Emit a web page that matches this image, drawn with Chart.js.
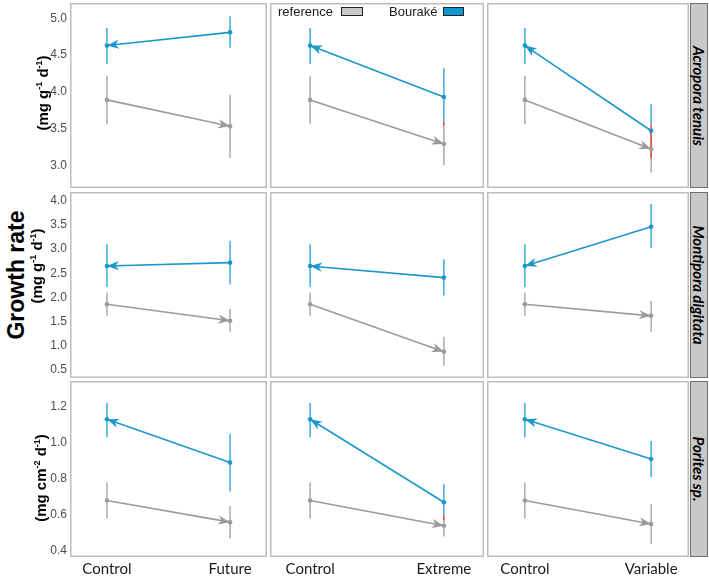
<!DOCTYPE html>
<html>
<head>
<meta charset="utf-8">
<script src="https://cdn.jsdelivr.net/npm/chart.js@4.4.1/dist/chart.umd.min.js"></script>
<style>
  body { margin: 0; background: #fff; }
  #wrap { position: relative; width: 709px; height: 580px; overflow: hidden; font-family: "Liberation Sans", Arial, sans-serif; }
  canvas { position: absolute; }
  .rot { position: absolute; white-space: nowrap; transform: translate(-50%, -50%) rotate(-90deg); font-weight: bold; color: #000; }
  .rot sup { font-size: 0.6em; vertical-align: 0.6em; line-height: 0; }
  .strip { position: absolute; background: #c8c8c8; border: 1px solid #6e6e6e; box-sizing: border-box; }
  .strip span { position: absolute; left: 50%; top: 50%; transform: translate(-50%, -50%) rotate(90deg); white-space: nowrap; font-family: Lato, sans-serif; font-style: italic; font-weight: bold; font-size: 15px; color: #000; }
  .leg { position: absolute; font-size: 13px; color: #1a1a1a; }
  .box { position: absolute; border: 1px solid #222; box-sizing: border-box; }
</style>
</head>
<body>
<div id="wrap"></div>
<script>
// species = rows, treatments = columns
const species = ['Acropora tenuis', 'Montipora digitata', 'Porites sp.'];
const treatments = ['Future', 'Extreme', 'Variable'];
const units = ['(mg g<sup>-1</sup> d<sup>-1</sup>)', '(mg g<sup>-1</sup> d<sup>-1</sup>)', '(mg cm<sup>-2</sup> d<sup>-1</sup>)'];

// control values, one per species
const refControl = [3.89, 1.86, 0.68];
const refControlLow = [3.56, 1.62, 0.58];
const refControlHigh = [4.22, 2.10, 0.78];
const bouControl = [4.63, 2.65, 1.13];
const bouControlLow = [4.38, 2.21, 1.03];
const bouControlHigh = [4.87, 3.10, 1.22];

// treatment values: [species][Future, Extreme, Variable]
const refTreat = [[3.53, 3.29, 3.22], [1.52, 0.88, 1.62], [0.56, 0.54, 0.55]];
const refTreatLow = [[3.10, 3.00, 2.90], [1.29, 0.59, 1.29], [0.47, 0.48, 0.44]];
const refTreatHigh = [[3.96, 3.56, 3.50], [1.76, 1.19, 1.93], [0.65, 0.59, 0.66]];
const bouTreat = [[4.81, 3.93, 3.47], [2.72, 2.41, 3.46], [0.89, 0.67, 0.91]];
const bouTreatLow = [[4.60, 3.60, 3.55], [2.27, 2.04, 3.02], [0.73, 0.60, 0.81]];
const bouTreatHigh = [[5.03, 4.32, 3.83], [3.17, 2.79, 3.93], [1.05, 0.77, 1.01]];
// small red overlap segments on the treatment error bars
const overlapLow = [[null, 3.54, 3.10], [null, null, null], [null, 0.57, null]];
const overlapHigh = [[null, 3.60, 3.55], [null, null, null], [null, 0.60, null]];

// y axes per species
const yTicks = [[3.0, 3.5, 4.0, 4.5, 5.0], [0.5, 1.0, 1.5, 2.0, 2.5, 3.0, 3.5, 4.0], [0.4, 0.6, 0.8, 1.0, 1.2]];
const yMin = [2.69, 0.335, 0.367];
const yMax = [5.21, 4.18, 1.342];

const BLUE = '#1b98c9', BLUE_ERR = '#3eaad8', GREY = '#9b9b9b', GREY_ERR = '#ababab', RED = '#e8453c';

// panel boxes in page pixels
const colX = [[70, 267], [270, 484], [487, 689]];
const rowY = [[3, 188], [192, 378], [381, 557]];

const wrap = document.getElementById('wrap');

function arrowHead(ctx, x0, y0, x1, y1, color) {
  const a = Math.atan2(y1 - y0, x1 - x0);
  const dx = Math.cos(a), dy = Math.sin(a);
  const L = 12, W = 4.6, N = 8.5;
  ctx.fillStyle = color;
  ctx.beginPath();
  ctx.moveTo(x1, y1);
  ctx.lineTo(x1 - L * dx - W * dy, y1 - L * dy + W * dx);
  ctx.lineTo(x1 - N * dx, y1 - N * dy);
  ctx.lineTo(x1 - L * dx + W * dy, y1 - L * dy - W * dx);
  ctx.closePath();
  ctx.fill();
}

const panelPlugin = {
  id: 'panel',
  beforeDatasetsDraw(chart, args, opts) {
    const { ctx, scales: { x, y } } = chart;
    ctx.save();
    ctx.lineWidth = 1.5;
    opts.bars.forEach(b => {
      if (b.lo == null) return;
      const px = x.getPixelForValue(b.x);
      ctx.strokeStyle = b.color;
      ctx.beginPath();
      ctx.moveTo(px, y.getPixelForValue(b.lo));
      ctx.lineTo(px, y.getPixelForValue(b.hi));
      ctx.stroke();
    });
    ctx.restore();
  },
  afterDatasetsDraw(chart, args, opts) {
    const { ctx, chartArea: a, scales: { x, y } } = chart;
    ctx.save();
    opts.arrows.forEach(ar => {
      arrowHead(ctx, x.getPixelForValue(ar.from[0]), y.getPixelForValue(ar.from[1]),
        x.getPixelForValue(ar.to[0]), y.getPixelForValue(ar.to[1]), ar.color);
    });
    ctx.strokeStyle = '#bdbdbd';
    ctx.lineWidth = 1.5;
    ctx.strokeRect(a.left + 0.75, a.top + 0.75, a.width - 1.5, a.height - 1.5);
    ctx.restore();
  }
};

function makePanel(r, c) {
  const showY = c === 0, showX = r === 2;
  const extraLeft = showY ? 40 : 0;
  const extraBottom = showX ? 25 : 0;
  const cv = document.createElement('canvas');
  const w = colX[c][1] - colX[c][0] + extraLeft;
  const h = rowY[r][1] - rowY[r][0] + extraBottom;
  cv.width = w; cv.height = h;
  cv.style.left = (colX[c][0] - extraLeft) + 'px';
  cv.style.top = rowY[r][0] + 'px';
  cv.style.width = w + 'px'; cv.style.height = h + 'px';
  wrap.appendChild(cv);

  const bouData = [{ x: 0, y: bouControl[r] }, { x: 1, y: bouTreat[r][c] }];
  const refData = [{ x: 0, y: refControl[r] }, { x: 1, y: refTreat[r][c] }];

  new Chart(cv, {
    type: 'line',
    data: {
      datasets: [
        { label: 'Bouraké', data: bouData, borderColor: BLUE, backgroundColor: BLUE, borderWidth: 1.6, pointRadius: 2.3, pointBorderWidth: 0 },
        { label: 'reference', data: refData, borderColor: GREY, backgroundColor: GREY, borderWidth: 1.6, pointRadius: 2.3, pointBorderWidth: 0 }
      ]
    },
    options: {
      responsive: false,
      animation: false,
      devicePixelRatio: 1,
      layout: { padding: 0, autoPadding: false },
      plugins: {
        legend: { display: false },
        tooltip: { enabled: false },
        panel: {
          bars: [
            { x: 0, lo: refControlLow[r], hi: refControlHigh[r], color: GREY_ERR },
            { x: 1, lo: refTreatLow[r][c], hi: refTreatHigh[r][c], color: GREY_ERR },
            { x: 0, lo: bouControlLow[r], hi: bouControlHigh[r], color: BLUE_ERR },
            { x: 1, lo: bouTreatLow[r][c], hi: bouTreatHigh[r][c], color: BLUE_ERR },
            { x: 1, lo: overlapLow[r][c], hi: overlapHigh[r][c], color: RED }
          ],
          arrows: [
            { from: [0, refControl[r]], to: [1, refTreat[r][c]], color: GREY },
            { from: [1, bouTreat[r][c]], to: [0, bouControl[r]], color: BLUE }
          ]
        }
      },
      scales: {
        x: {
          type: 'linear', min: -0.3, max: 1.3,
          display: showX,
          grid: { display: false, drawTicks: false, tickLength: 0 },
          border: { display: false },
          afterBuildTicks: s => { s.ticks = [{ value: 0 }, { value: 1 }]; },
          afterFit: s => { s.height = showX ? 25 : 0; s.paddingLeft = 0; s.paddingRight = 0; },
          ticks: {
            callback: v => v === 0 ? 'Control' : treatments[c],
            font: { family: 'Lato', size: 15 }, color: '#1a1a1a',
            padding: 3, maxRotation: 0, autoSkip: false
          }
        },
        y: {
          type: 'linear', min: yMin[r], max: yMax[r],
          display: showY,
          grid: { display: false, drawTicks: false, tickLength: 0 },
          border: { display: false },
          afterBuildTicks: s => { s.ticks = yTicks[r].map(v => ({ value: v })); },
          afterFit: s => { s.width = showY ? 40 : 0; s.paddingTop = 0; s.paddingBottom = 0; },
          ticks: {
            callback: v => v.toFixed(1),
            font: { family: 'Liberation Sans', size: 12 }, color: '#4d4d4d',
            padding: 3
          }
        }
      }
    },
    plugins: [panelPlugin]
  });
}

function addLabel(html, cls, styles) {
  const d = document.createElement('div');
  d.className = cls;
  d.innerHTML = html;
  Object.assign(d.style, styles);
  wrap.appendChild(d);
  return d;
}

for (let r = 0; r < 3; r++) {
  for (let c = 0; c < 3; c++) makePanel(r, c);
  addLabel('<span>' + species[r] + '</span>', 'strip', {
    left: '690px', width: '18px', top: rowY[r][0] + 'px', height: (rowY[r][1] - rowY[r][0]) + 'px'
  });
}

// axis titles
addLabel('Growth rate', 'rot', { left: '16px', top: '275px', fontSize: '23px' });
addLabel(units[0], 'rot', { left: '42px', top: '93px', fontSize: '15px' });
addLabel(units[1], 'rot', { left: '36px', top: '266px', fontSize: '15px' });
addLabel(units[2], 'rot', { left: '40px', top: '478px', fontSize: '15px' });

// legend
addLabel('reference', 'leg', { left: '278px', top: '4px' });
addLabel('', 'box', { left: '341px', top: '7px', width: '22px', height: '9px', background: '#c8c8c8' });
addLabel('Bouraké', 'leg', { left: '389px', top: '4px' });
addLabel('', 'box', { left: '443px', top: '7px', width: '21px', height: '9px', background: '#0b97d0' });
</script>
</body>
</html>
